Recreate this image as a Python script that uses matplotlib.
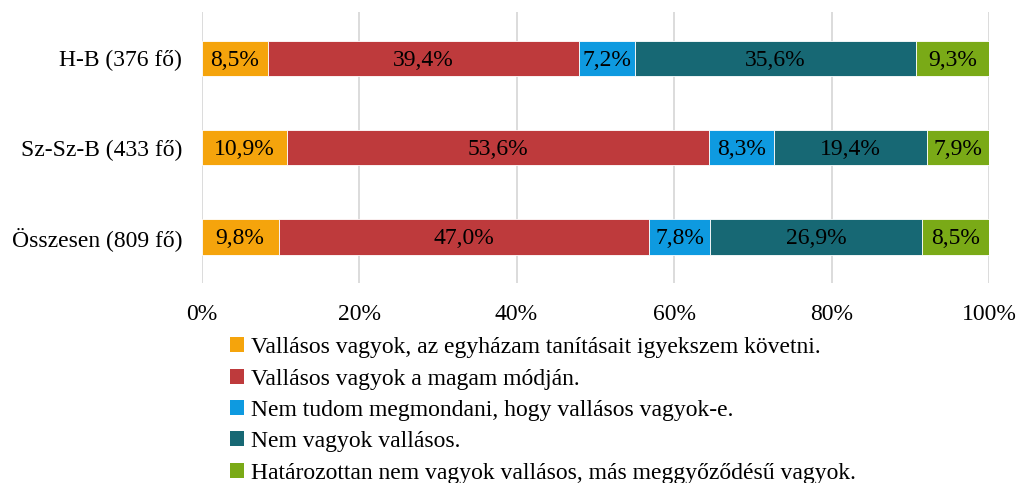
import numpy as np
import matplotlib.pyplot as plt
from matplotlib.patches import Patch

plt.rcParams['font.family'] = ['Liberation Serif', 'DejaVu Serif']

groups = ['H-B (376 fő)', 'Sz-Sz-B (433 fő)', 'Összesen (809 fő)']
answers = ['Vallásos vagyok, az egyházam tanításait igyekszem követni.',
           'Vallásos vagyok a magam módján.',
           'Nem tudom megmondani, hogy vallásos vagyok-e.',
           'Nem vagyok vallásos.',
           'Határozottan nem vagyok vallásos, más meggyőződésű vagyok.']
vals = [[8.5, 10.9, 9.8],
        [39.4, 53.6, 47.0],
        [7.2, 8.3, 7.8],
        [35.6, 19.4, 26.9],
        [9.3, 7.9, 8.5]]
colors = ['#F5A40C', '#BE3A3C', '#0E9AE0', '#176874', '#7AAA17']

fig = plt.figure(figsize=(10.18, 4.83), dpi=100)
ax = fig.add_axes([0.198, 0.414, 0.7735, 0.561])

y = np.arange(len(groups))
tot = np.array([sum(v[i] for v in vals) for i in range(len(groups))])
left = np.zeros(len(groups))
for v, c in zip(vals, colors):
    w = np.array(v) / tot * 100
    ax.barh(y, w, left=left, height=0.4, color=c, edgecolor='white', linewidth=0.6, zorder=3)
    for yi, li, wi, vi in zip(y, left, w, v):
        ax.text(li + wi / 2, yi + 0.02, f'{vi:.1f}%'.replace('.', ','), ha='center', va='center',
                fontsize=17, color='black', zorder=4)
    left += w

ax.set_xlim(0, 100)
ax.set_ylim(2.52, -0.52)
ax.set_yticks(y)
ax.set_yticklabels(groups, fontsize=17)
ax.set_xticks(np.arange(0, 101, 20))
ax.set_xticklabels([f'{t}%' for t in range(0, 101, 20)], fontsize=17)
ax.tick_params(length=0)
ax.tick_params(axis='y', pad=14)
ax.tick_params(axis='x', pad=15)
ax.grid(axis='x', color='#D9D9D9', linewidth=1.3, zorder=0)
for s in ax.spines.values():
    s.set_visible(False)

handles = [Patch(facecolor=c, label=a) for a, c in zip(answers, colors)]
fig.legend(handles=handles, loc='upper left', bbox_to_anchor=(0.226, 0.302), frameon=False,
           fontsize=17, handlelength=0.6, handleheight=0.6, handletextpad=0.3,
           labelspacing=0.44, borderpad=0, borderaxespad=0)

fig.savefig('out.png', dpi=100)
